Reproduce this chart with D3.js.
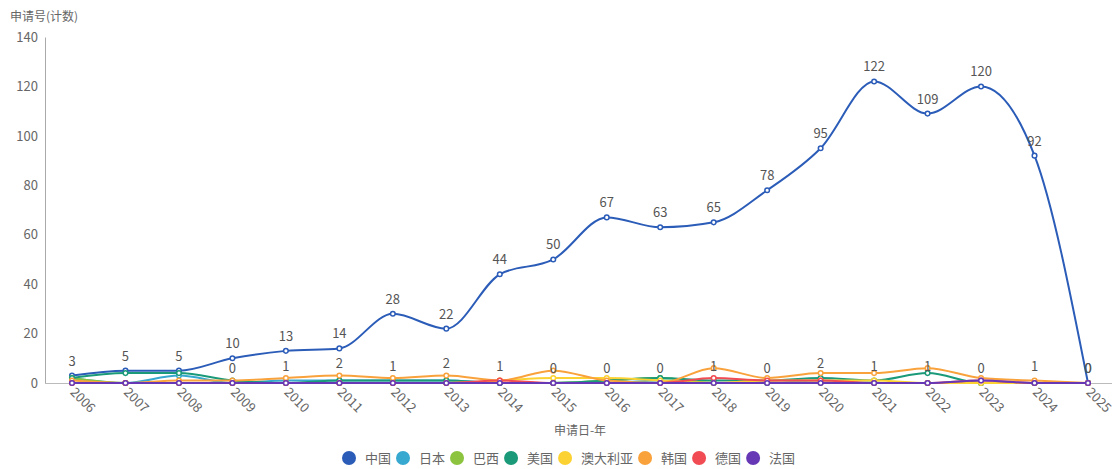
<!DOCTYPE html>
<html><head><meta charset="utf-8">
<script src="https://cdn.jsdelivr.net/npm/d3@7/dist/d3.min.js"></script>
<style>
body{margin:0;background:#fff;}
svg text{font-family:"Noto Sans CJK SC","Noto Sans",sans-serif;}
</style></head>
<body><svg id="c" width="1116" height="469"></svg>
<script>
const years = ["2006","2007","2008","2009","2010","2011","2012","2013","2014","2015","2016","2017","2018","2019","2020","2021","2022","2023","2024","2025"];
const seriesNames = ["中国","日本","巴西","美国","澳大利亚","韩国","德国","法国"];
const seriesColors = ["#2b5cb8","#37a9d0","#8cc43f","#1a9a78","#fcd232","#f9a23c","#f14c53","#6638b5"];
const china     = [3,5,5,10,13,14,28,22,44,50,67,63,65,78,95,122,109,120,92,0];
const japan     = [2,0,3,0,1,1,1,1,0,0,0,1,0,0,1,0,0,0,0,0];
const brazil    = [2,0,0,0,0,0,0,0,0,0,1,2,0,0,0,0,0,0,0,0];
const usa       = [2,4,4,1,0,1,1,1,0,0,1,2,1,1,2,1,4,0,0,0];
const australia = [0,0,0,0,0,0,0,0,1,2,2,1,0,1,1,1,0,0,0,0];
const korea     = [1,0,1,1,2,3,2,3,1,5,1,0,6,2,4,4,6,2,1,0];
const germany   = [0,0,0,0,0,0,0,0,1,0,0,0,2,1,1,0,0,1,0,0];
const france    = [0,0,0,0,0,0,0,0,0,0,0,0,0,0,0,0,0,1,0,0];
const secondaryLabels = [null,null,null,0,1,2,1,2,1,0,0,0,1,0,2,1,1,0,1,0];
const yTicks = [0,20,40,60,80,100,120,140];
const allSeries = [china,japan,brazil,usa,australia,korea,germany,france];

const svg = d3.select("#c");
const x = d3.scalePoint().domain(years).range([72,1088]);
const y = d3.scaleLinear().domain([0,140]).range([383,37]);

// y axis
const ya = svg.append("g").attr("transform","translate(45,0)")
  .call(d3.axisLeft(y).tickValues(yTicks).tickSize(0).tickPadding(7));
ya.select(".domain").attr("stroke","#aaa");
ya.selectAll("text").attr("fill","#666").style("font-size","13px");

// x axis
const xa = svg.append("g").attr("transform","translate(0,383)")
  .call(d3.axisBottom(x).tickSize(0).tickPadding(0));
xa.select(".domain").attr("d","M45,0.5H1112").attr("stroke","#bbb");
xa.selectAll("text").attr("fill","#666").style("font-size","13px")
  .attr("text-anchor","start").attr("dy",0)
  .attr("transform","translate(-3,10) rotate(45)");

svg.append("text").attr("x",10).attr("y",21).attr("fill","#666").style("font-size","12px").text("申请号(计数)");
svg.append("text").attr("x",580).attr("y",435).attr("text-anchor","middle").attr("fill","#666").style("font-size","12px").text("申请日-年");

const line = d3.line().x((d,i)=>x(years[i])).y(d=>y(d)).curve(d3.curveMonotoneX);
allSeries.forEach((s,k)=>{
  const g = svg.append("g");
  g.append("path").attr("d",line(s)).attr("fill","none").attr("stroke",seriesColors[k]).attr("stroke-width",2);
  g.selectAll("circle").data(s).join("circle")
    .attr("cx",(d,i)=>x(years[i])).attr("cy",d=>y(d)).attr("r",2.3)
    .attr("fill","#fff").attr("stroke",seriesColors[k]).attr("stroke-width",1.5);
});

svg.append("g").selectAll("text").data(china).join("text")
  .attr("x",(d,i)=>x(years[i])).attr("y",d=>y(d)-10)
  .attr("text-anchor","middle").attr("fill","#555").style("font-size","13px").text(d=>d);
svg.append("g").selectAll("text").data(secondaryLabels.map((v,i)=>({v,i})).filter(d=>d.v!==null)).join("text")
  .attr("x",d=>x(years[d.i])).attr("y",d=>y(d.v)-10)
  .attr("text-anchor","middle").attr("fill","#555").style("font-size","13px").text(d=>d.v);

// legend
const lg = svg.append("g");
let cx = 0;
seriesNames.forEach((n,k)=>{
  const it = lg.append("g");
  it.append("circle").attr("cx",cx+7).attr("cy",458).attr("r",7).attr("fill",seriesColors[k]);
  const t = it.append("text").attr("x",cx+23).attr("y",462.5).attr("fill","#666").style("font-size","13px").text(n);
  const w = t.node().getComputedTextLength();
  cx += 23 + w + 5;
});
lg.attr("transform",`translate(${342},0)`);
</script></body></html>
